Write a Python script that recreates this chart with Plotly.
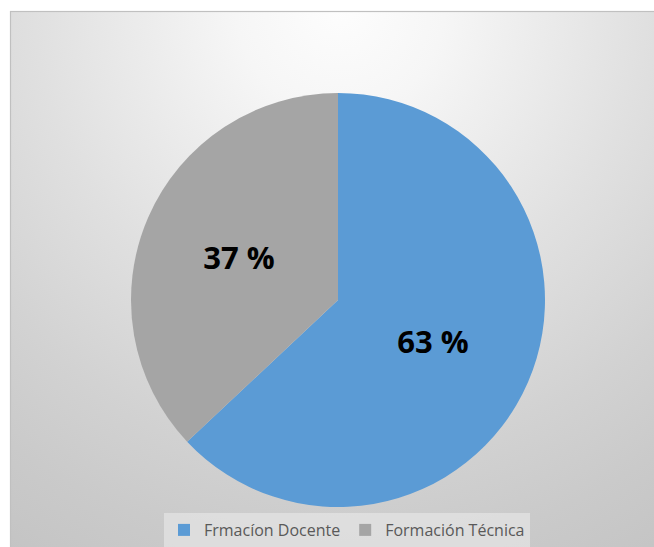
import base64
import plotly.graph_objects as go

# ---- data ----
categories = ["Frmacíon Docente", "Formación Técnica"]
values = [63, 37]
slice_colors = ["#5B9BD5", "#A5A5A5"]

total = sum(values)
labels_text = [f"{round(v / total * 100)} %" for v in values]

W, H = 654, 547

svg = f"""<svg xmlns='http://www.w3.org/2000/svg' width='{W}' height='{H}' viewBox='0 0 {W} {H}' preserveAspectRatio='none'>
<defs>
<radialGradient id='g' gradientUnits='userSpaceOnUse' cx='340' cy='8' r='650' fx='340' fy='8'>
<stop offset='0' stop-color='#fdfdfd'/>
<stop offset='0.16' stop-color='#f6f6f6'/>
<stop offset='0.47' stop-color='#e0e0e0'/>
<stop offset='0.69' stop-color='#d2d2d2'/>
<stop offset='0.84' stop-color='#cacaca'/>
<stop offset='1' stop-color='#c3c3c3'/>
</radialGradient>
</defs>
<rect x='0' y='0' width='{W}' height='{H}' fill='#ffffff'/>
<rect x='10.5' y='11.5' width='{W + 10}' height='{H + 10}' fill='url(#g)' stroke='#c0c0c0' stroke-width='1.2'/>
</svg>"""
bg_uri = "data:image/svg+xml;base64," + base64.b64encode(svg.encode()).decode()

cx, cy, r = 338, 300, 207

fig = go.Figure()
fig.add_trace(go.Pie(
    labels=categories,
    values=values,
    text=labels_text,
    textinfo="text",
    textposition="inside",
    insidetextorientation="horizontal",
    textfont=dict(family="Open Sans", size=31, color="#000000", weight="bold"),
    marker=dict(colors=slice_colors, line=dict(width=0)),
    sort=False,
    direction="clockwise",
    rotation=0,
    hoverinfo="none",
    domain=dict(x=[(cx - r) / W, (cx + r) / W], y=[1 - (cy + r) / H, 1 - (cy - r) / H]),
))

fig.update_layout(
    width=W, height=H,
    margin=dict(l=0, r=0, t=0, b=0),
    paper_bgcolor="#ffffff",
    plot_bgcolor="rgba(0,0,0,0)",
    images=[dict(source=bg_uri, xref="paper", yref="paper", x=0, y=1,
                 sizex=1, sizey=1, xanchor="left", yanchor="top",
                 sizing="stretch", layer="below")],
    showlegend=True,
    legend=dict(
        orientation="h", x=347 / W, xanchor="center", y=1 - 513 / H, yanchor="top",
        bgcolor="rgba(236,236,236,0.55)",
        font=dict(family="Open Sans", size=16, color="#595959"),
        itemwidth=30,
    ),
)

fig.write_html(
    "out.html",
    config={"displayModeBar": False},
    post_script="document.body.style.margin='0';document.body.style.overflow='hidden';",
)
